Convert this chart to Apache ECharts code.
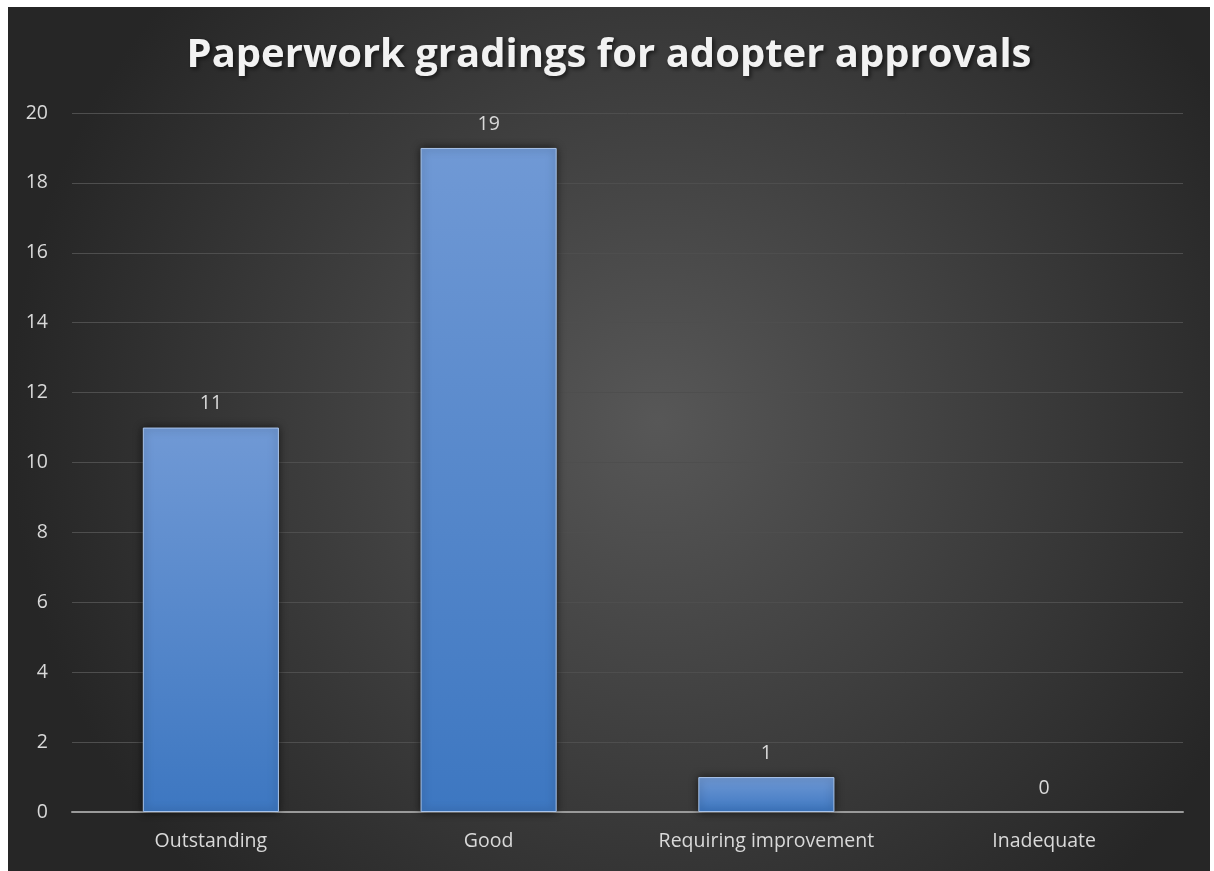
<!DOCTYPE html>
<html><head><meta charset="utf-8">
<script src="https://cdn.jsdelivr.net/npm/echarts@6/dist/echarts.min.js"></script>
<style>
html,body{margin:0;padding:0;background:#fff;width:1214px;height:871px;overflow:hidden;}
#c{position:absolute;left:8px;top:7px;width:1202px;height:864px;}
</style></head><body>
<div id="c"></div>
<script>
const titleText = 'Paperwork gradings for adopter approvals';
const categories = ['Outstanding', 'Good', 'Requiring improvement', 'Inadequate'];
const values = [11, 19, 1, 0];
const yTicks = {min: 0, max: 20, interval: 2};

const chart = echarts.init(document.getElementById('c'), null, {renderer: 'canvas'});
chart.setOption({
  backgroundColor: {
    type: 'radial', x: 0.54, y: 0.48, r: 0.75,
    colorStops: [{offset: 0, color: '#575757'}, {offset: 1, color: '#262626'}]
  },
  title: {
    text: titleText, left: 'center', top: 24,
    textStyle: {
      fontFamily: 'Open Sans', fontWeight: 'bold', fontSize: 40, color: '#f2f2f2',
      textShadowColor: 'rgba(0,0,0,0.6)', textShadowBlur: 4, textShadowOffsetX: 2, textShadowOffsetY: 2
    }
  },
  grid: {left: 64, right: 27, top: 106, bottom: 59, containLabel: false},
  xAxis: {
    type: 'category', data: categories,
    axisLine: {lineStyle: {color: '#9a9a9a', width: 2}},
    axisTick: {show: false},
    axisLabel: {color: '#d9d9d9', fontSize: 19.5, fontFamily: 'Open Sans', margin: 19, interval: 0, hideOverlap: false}
  },
  yAxis: {
    type: 'value', min: yTicks.min, max: yTicks.max, interval: yTicks.interval,
    axisLine: {show: false}, axisTick: {show: false},
    axisLabel: {color: '#d9d9d9', fontSize: 19.5, fontFamily: 'Open Sans', margin: 24},
    splitLine: {lineStyle: {color: '#4e4e4e', width: 1}}
  },
  series: [{
    type: 'bar',
    data: values.map(v => v === 0 ? {value: v, itemStyle: {borderWidth: 0, shadowBlur: 0}} : v),
    barWidth: '49%',
    itemStyle: {
      color: {
        type: 'linear', x: 0, y: 0, x2: 0, y2: 1,
        colorStops: [{offset: 0, color: '#7099d5'}, {offset: 1, color: '#3d77c1'}]
      },
      borderColor: '#a9c4ea', borderWidth: 1,
      shadowColor: 'rgba(0,0,0,0.6)', shadowBlur: 8, shadowOffsetX: 0, shadowOffsetY: 0
    },
    label: {
      show: true, position: 'top', distance: 14,
      color: '#d9d9d9', fontSize: 19.5, fontFamily: 'Open Sans'
    }
  }]
});
</script>
</body></html>
